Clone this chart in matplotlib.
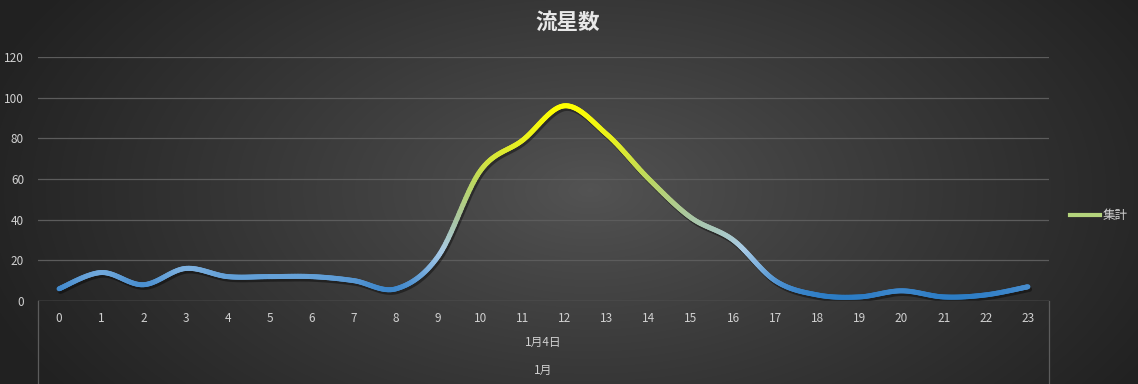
import numpy as np
import matplotlib
matplotlib.use('Agg')
import matplotlib.pyplot as plt
from matplotlib.collections import LineCollection
from matplotlib.colors import LinearSegmentedColormap, Normalize
from matplotlib.lines import Line2D
import matplotlib.transforms as mtransforms

plt.rcParams['font.family'] = ['Noto Sans CJK JP', 'DejaVu Sans']

# data
hours = list(range(24))
counts = [6, 14, 8, 16, 12, 12, 12, 10, 6, 22, 64, 79, 96, 82, 60, 41, 30, 10, 3, 2, 5, 2, 3, 7]
title = '流星数'
series_name = '集計'
level2_label = '1月4日'
level3_label = '1月'
y_ticks = [0, 20, 40, 60, 80, 100, 120]


def smooth_curve(xs, ys, n=30):
    # Excel-like smoothed line (Catmull-Rom as cubic bezier)
    xs = np.asarray(xs, float)
    ys = np.asarray(ys, float)
    px = np.concatenate([[xs[0]], xs, [xs[-1]]])
    py = np.concatenate([[ys[0]], ys, [ys[-1]]])
    t = np.linspace(0, 1, n)
    ox, oy = [], []
    for i in range(1, len(px) - 2):
        p0 = np.array([px[i], py[i]])
        p3 = np.array([px[i + 1], py[i + 1]])
        c1 = p0 + (np.array([px[i + 1], py[i + 1]]) - np.array([px[i - 1], py[i - 1]])) / 6
        c2 = p3 - (np.array([px[i + 2], py[i + 2]]) - p0) / 6
        b = ((1 - t) ** 3)[:, None] * p0 + (3 * (1 - t) ** 2 * t)[:, None] * c1 \
            + (3 * (1 - t) * t ** 2)[:, None] * c2 + (t ** 3)[:, None] * p3
        if i > 1:
            b = b[1:]
        ox.extend(b[:, 0])
        oy.extend(b[:, 1])
    return np.array(ox), np.array(oy)


fig = plt.figure(figsize=(11.38, 3.84), dpi=100)

# radial gradient background
bg = fig.add_axes([0, 0, 1, 1], zorder=-10)
W, H = 1138, 384
gx, gy = np.meshgrid(np.arange(W), np.arange(H))
r = np.sqrt(((gx - 590) / 640.0) ** 2 + ((gy - 190) / 360.0) ** 2)
r = np.clip(r, 0, 1)
c_in, c_out = 0x54, 0x22
val = (c_in + (c_out - c_in) * r ** 0.9) / 255.0
bg.imshow(val, cmap='gray', vmin=0, vmax=1, aspect='auto', extent=[0, 1, 0, 1], origin='upper')
bg.axis('off')

ax = fig.add_axes([38 / 1138, 83 / 384, (1049 - 38) / 1138, (301 - 57) / 384])
ax.patch.set_alpha(0)
ax.set_xlim(-0.5, 23.5)
ax.set_ylim(0, 120)

for sp in ax.spines.values():
    sp.set_visible(False)
ax.axhline(0, color='#5c5c5c', lw=1, zorder=1)
ax.set_yticks(y_ticks)
ax.grid(axis='y', color='#5c5c5c', lw=0.9)
ax.set_axisbelow(True)
ax.set_xticks(hours)
ax.set_xticklabels([str(h) for h in hours])
ax.tick_params(axis='both', length=0, colors='#d0d0d0', labelsize=8.5)
ax.tick_params(axis='y', pad=10)
ax.tick_params(axis='x', pad=8)

# category level dividers
for xa in (0, 1):
    ax.plot([xa, xa], [0, -0.36], transform=ax.transAxes, color='#5c5c5c', lw=0.9, clip_on=False)
ax.text(0.5, -0.168, level2_label, transform=ax.transAxes, ha='center', va='center',
        color='#d0d0d0', fontsize=8.5)
ax.text(0.5, -0.283, level3_label, transform=ax.transAxes, ha='center', va='center',
        color='#d0d0d0', fontsize=8.5)

# smoothed gradient line
sx, sy = smooth_curve(hours, counts)
shadow_tr = mtransforms.offset_copy(ax.transData, fig=fig, x=1.5, y=-2.5, units='dots')
ax.plot(sx, sy, color='black', alpha=0.4, lw=3.8, transform=shadow_tr, solid_capstyle='round', zorder=2)

cmap = LinearSegmentedColormap.from_list('meteor', [
    (0.0, '#2477c2'), (0.08, '#4a8fd0'), (0.17, '#7fb2e0'), (0.26, '#a9cbe6'),
    (0.42, '#a9c6a4'), (0.62, '#bcd860'), (0.82, '#e8f020'), (1.0, '#ffff00')])
pts = np.column_stack([sx, sy]).reshape(-1, 1, 2)
segs = np.concatenate([pts[:-1], pts[1:]], axis=1)
lc = LineCollection(segs, cmap=cmap, norm=Normalize(0, 96), lw=3.6, capstyle='round', zorder=3)
lc.set_array((sy[:-1] + sy[1:]) / 2)
ax.add_collection(lc)

fig.text(568 / 1138, 1 - 22 / 384, title, ha='center', va='center', color='#e8e8e8',
         fontsize=15.5, fontweight='bold')

handle = Line2D([0], [0], color='#b4d47c', lw=3)
leg = ax.legend([handle], [series_name], loc='center left', bbox_to_anchor=(1.01, 0.35),
                frameon=False, handlelength=2.4, handletextpad=0.15, fontsize=9,
                labelcolor='#d0d0d0')

fig.savefig('out.png', dpi=100)
